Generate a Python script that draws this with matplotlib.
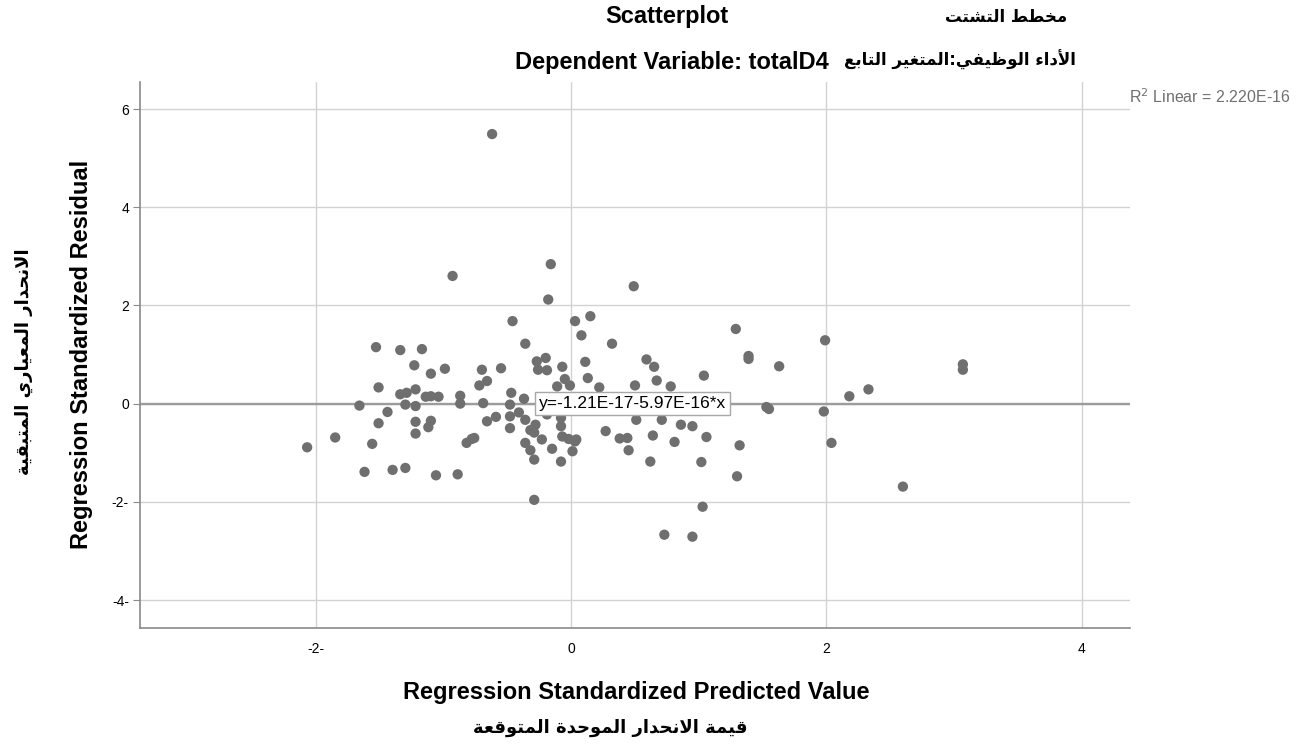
import matplotlib
matplotlib.use("Agg")
import matplotlib.pyplot as plt
import numpy as np

# ---- data ----
pred_x = [-0.62, -0.93, -0.16, -0.18, 0.49, -0.46, 0.03, 0.15, 0.08, -0.36,
          0.32, 1.29, 1.39, 1.39, 1.99, 1.63, -1.53, -1.34, -1.17, -1.23,
          -1.10, -0.99, -1.51, -1.34, -1.29, -1.22, -1.14, -1.10, -1.04, -1.30,
          -1.22, -1.66, -1.44, -1.51, -1.22, -1.22, -1.10, -1.12, -0.87, -0.87,
          -0.70, -0.55, -0.72, -0.66, -0.69, -0.47, -0.48, -0.37, -0.27, -0.20,
          -0.26, -0.19, -0.07, -0.05, -0.01, -0.11, 0.11, 0.13, -0.66, -0.59,
          -0.48, -0.48, -0.41, -0.36, -0.28, -0.32, -0.29, -0.23, -0.36, -0.32,
          -0.29, -0.15, -0.08, -0.08, -0.07, -0.02, 0.03, 0.01, -0.82, -0.78,
          -0.76, -1.85, -2.07, -1.56, -1.62, -1.40, -1.30, -1.06, -0.89, -0.29,
          0.22, 0.59, 0.65, 0.67, 0.50, 0.78, 1.04, -0.19, -0.08, 0.27,
          0.38, 0.44, 0.45, 0.51, 0.64, 0.62, 0.71, 0.81, 0.86, 0.95,
          1.06, 1.02, 1.32, 1.30, 1.03, 0.73, 0.95, 2.18, 2.33, 1.53,
          1.55, 1.98, 2.04, 2.60, 3.07, 3.07, 0.04, 0.20, 0.55, 1.10]
resid_y = [5.49, 2.60, 2.84, 2.12, 2.39, 1.68, 1.68, 1.78, 1.39, 1.22,
           1.22, 1.52, 0.97, 0.91, 1.29, 0.76, 1.15, 1.09, 1.11, 0.78,
           0.61, 0.71, 0.33, 0.19, 0.22, 0.29, 0.14, 0.15, 0.14, -0.02,
           -0.05, -0.04, -0.17, -0.40, -0.37, -0.61, -0.35, -0.48, 0.16, 0.00,
           0.69, 0.72, 0.37, 0.46, 0.01, 0.22, -0.02, 0.10, 0.86, 0.93,
           0.69, 0.68, 0.75, 0.50, 0.37, 0.35, 0.85, 0.52, -0.36, -0.27,
           -0.26, -0.50, -0.18, -0.33, -0.43, -0.54, -0.59, -0.73, -0.80, -0.95,
           -1.14, -0.92, -1.18, -0.46, -0.67, -0.72, -0.77, -0.97, -0.80, -0.72,
           -0.70, -0.69, -0.89, -0.82, -1.39, -1.35, -1.31, -1.46, -1.44, -1.96,
           0.33, 0.90, 0.75, 0.47, 0.37, 0.35, 0.57, -0.22, -0.29, -0.56,
           -0.71, -0.70, -0.95, -0.33, -0.65, -1.18, -0.33, -0.78, -0.43, -0.46,
           -0.68, -1.19, -0.85, -1.48, -2.10, -2.67, -2.71, 0.15, 0.29, -0.07,
           -0.11, -0.16, -0.80, -1.69, 0.80, 0.69, -0.73, 0.02, -0.05, 0.05]

fit_intercept = -1.21e-17
fit_slope = -5.97e-16
r2_linear = 2.220e-16

x_ticks = [-2, 0, 2, 4]
x_tick_labels = ["-2-", "0", "2", "4"]
y_ticks = [-4, -2, 0, 2, 4, 6]
y_tick_labels = ["-4-", "-2-", "0", "2", "4", "6"]

title_en = "Scatterplot"
title_ar = "مخطط التشتت"
subtitle_en = "Dependent Variable: totalD4"
subtitle_ar = "الأداء الوظيفي:المتغير التابع"
xlabel_en = "Regression Standardized Predicted Value"
xlabel_ar = "قيمة الانحدار الموحدة المتوقعة"
ylabel_en = "Regression Standardized Residual"
ylabel_ar = "الانحدار المعياري المتبقية"

# ---- minimal arabic shaping (matplotlib has no bidi / joining) ----
AR_FORMS = {
    "\u0621": ("\uFE80",),
    "\u0622": ("\uFE81", "\uFE82"),
    "\u0623": ("\uFE83", "\uFE84"),
    "\u0625": ("\uFE87", "\uFE88"),
    "\u0627": ("\uFE8D", "\uFE8E"),
    "\u0628": ("\uFE8F", "\uFE90", "\uFE91", "\uFE92"),
    "\u0629": ("\uFE93", "\uFE94"),
    "\u062A": ("\uFE95", "\uFE96", "\uFE97", "\uFE98"),
    "\u062D": ("\uFEA1", "\uFEA2", "\uFEA3", "\uFEA4"),
    "\u062E": ("\uFEA5", "\uFEA6", "\uFEA7", "\uFEA8"),
    "\u062F": ("\uFEA9", "\uFEAA"),
    "\u0631": ("\uFEAD", "\uFEAE"),
    "\u0634": ("\uFEB5", "\uFEB6", "\uFEB7", "\uFEB8"),
    "\u0637": ("\uFEC1", "\uFEC2", "\uFEC3", "\uFEC4"),
    "\u0638": ("\uFEC5", "\uFEC6", "\uFEC7", "\uFEC8"),
    "\u0639": ("\uFEC9", "\uFECA", "\uFECB", "\uFECC"),
    "\u063A": ("\uFECD", "\uFECE", "\uFECF", "\uFED0"),
    "\u0641": ("\uFED1", "\uFED2", "\uFED3", "\uFED4"),
    "\u0642": ("\uFED5", "\uFED6", "\uFED7", "\uFED8"),
    "\u0644": ("\uFEDD", "\uFEDE", "\uFEDF", "\uFEE0"),
    "\u0645": ("\uFEE1", "\uFEE2", "\uFEE3", "\uFEE4"),
    "\u0646": ("\uFEE5", "\uFEE6", "\uFEE7", "\uFEE8"),
    "\u0648": ("\uFEED", "\uFEEE"),
    "\u064A": ("\uFEF1", "\uFEF2", "\uFEF3", "\uFEF4"),
    "\uFEFB": ("\uFEFB", "\uFEFC"),
    "\uFEF7": ("\uFEF7", "\uFEF8"),
    "\uFEF9": ("\uFEF9", "\uFEFA"),
}
LAM_ALEF = {"\u0627": "\uFEFB", "\u0623": "\uFEF7", "\u0625": "\uFEF9"}


def shape_ar(text):
    chars = []
    i = 0
    while i < len(text):
        c = text[i]
        if c == "\u0644" and i + 1 < len(text) and text[i + 1] in LAM_ALEF:
            chars.append(LAM_ALEF[text[i + 1]])
            i += 2
        else:
            chars.append(c)
            i += 1
    out = []
    for k, c in enumerate(chars):
        f = AR_FORMS.get(c)
        if f is None or len(f) == 1:
            out.append(f[0] if f else c)
            continue
        prev = chars[k - 1] if k > 0 else None
        nxt = chars[k + 1] if k + 1 < len(chars) else None
        join_prev = prev in AR_FORMS and len(AR_FORMS[prev]) == 4
        join_next = len(f) == 4 and nxt in AR_FORMS and len(AR_FORMS[nxt]) > 1
        if join_prev and join_next:
            out.append(f[3])
        elif join_prev:
            out.append(f[1])
        elif join_next:
            out.append(f[2])
        else:
            out.append(f[0])
    return "".join(reversed(out))


plt.rcParams["font.family"] = ["Liberation Sans", "DejaVu Sans"]
AR_FONT = ["DejaVu Sans"]
EN_SIZE = 17

fig = plt.figure(figsize=(13.04, 7.54), dpi=100)
ax = fig.add_axes([140 / 1304, 1 - 628 / 754, 990 / 1304, 546 / 754])

ax.set_xlim(-3.38, 4.38)
ax.set_ylim(-4.57, 6.55)

ax.grid(True, color="#d2d2d2", linewidth=1.0)
ax.set_axisbelow(True)

# fit line across the full x range
xs = np.array(ax.get_xlim())
ax.plot(xs, fit_intercept + fit_slope * xs, color="#9c9c9c", linewidth=1.7, zorder=2)

ax.scatter(pred_x, resid_y, s=55, color="#6f6f6f", edgecolors="none", zorder=3)

ax.text(-0.255, fit_intercept, "y=-1.21E-17-5.97E-16*x", fontsize=12.5,
        ha="left", va="center", zorder=5,
        bbox=dict(boxstyle="square,pad=0.22", facecolor="white", edgecolor="#a8a8a8", linewidth=1))

for side in ["top", "right"]:
    ax.spines[side].set_visible(False)
for side in ["left", "bottom"]:
    ax.spines[side].set_color("#8a8a8a")
    ax.spines[side].set_linewidth(1.2)

ax.set_xticks(x_ticks)
ax.set_xticklabels(x_tick_labels)
ax.set_yticks(y_ticks)
ax.set_yticklabels(y_tick_labels)
ax.tick_params(axis="x", length=0, pad=10, labelsize=10)
ax.tick_params(axis="y", length=5, color="#8a8a8a", pad=3, labelsize=10)

# titles and labels
fig.text(667 / 1304, 1 - 17 / 754, title_en, ha="center", va="center",
         fontsize=EN_SIZE, fontweight="bold")
fig.text(1006 / 1304, 1 - 17 / 754, shape_ar(title_ar), ha="center", va="center",
         fontsize=12, fontweight="bold", family=AR_FONT)
fig.text(829 / 1304, 1 - 62 / 754, subtitle_en, ha="right", va="center",
         fontsize=EN_SIZE, fontweight="bold")
fig.text(844 / 1304, 1 - 60 / 754, shape_ar(subtitle_ar), ha="left", va="center",
         fontsize=12, fontweight="bold", family=AR_FONT)
fig.text(1129 / 1304, 1 - 97 / 754, "R$^2$ Linear = 2.220E-16", ha="left", va="center",
         fontsize=11.5, color="#707070")

fig.text(636 / 1304, 1 - 692 / 754, xlabel_en, ha="center", va="center",
         fontsize=EN_SIZE, fontweight="bold")
fig.text(610 / 1304, 1 - 728 / 754, shape_ar(xlabel_ar), ha="center", va="center",
         fontsize=13, fontweight="bold", family=AR_FONT)
fig.text(82 / 1304, 1 - 354 / 754, ylabel_en, ha="center", va="center",
         rotation=90, fontsize=EN_SIZE, fontweight="bold")
fig.text(24 / 1304, 1 - 362 / 754, shape_ar(ylabel_ar), ha="center", va="center",
         rotation=90, fontsize=13, fontweight="bold", family=AR_FONT)

fig.savefig("out.png", dpi=100)
